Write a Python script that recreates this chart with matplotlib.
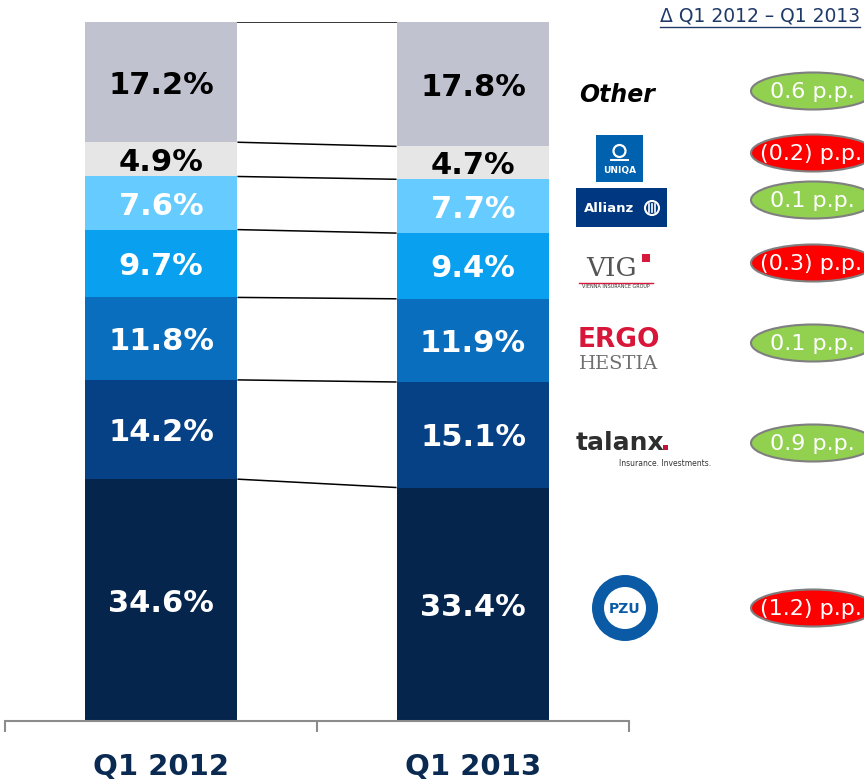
import numpy as np
import matplotlib
matplotlib.use("Agg")
import matplotlib.pyplot as plt
from matplotlib.patches import Ellipse, Rectangle, Circle

# data (bottom -> top)
periods = ["Q1 2012", "Q1 2013"]
companies = ["PZU", "talanx", "ERGO Hestia", "VIG", "Allianz", "UNIQA", "Other"]
share_2012 = [34.6, 14.2, 11.8, 9.7, 7.6, 4.9, 17.2]
share_2013 = [33.4, 15.1, 11.9, 9.4, 7.7, 4.7, 17.8]

colors = ["#06254D", "#064085", "#0A6EBE", "#0AA0F0", "#66CCFF", "#E6E6E6", "#C0C2D0"]
label_colors = ["white"] * 5 + ["black", "black"]
navy = "#0A2A52"

W, H = 864, 781
fig = plt.figure(figsize=(W / 100, H / 100), dpi=100)

# main bar axes: x from 5px to 629px, y from 60px to 759px (bottom-up)
ax = fig.add_axes([5 / W, 60 / H, 624 / W, 699 / H])
data = np.array([share_2012, share_2013])
x = np.arange(len(periods))
bw = 0.49
bottoms = np.zeros(len(periods))
for i in range(len(companies)):
    vals = data[:, i]
    ax.bar(x, vals, bw, bottom=bottoms, color=colors[i], edgecolor="none", zorder=2)
    for j in range(len(periods)):
        ax.text(x[j], bottoms[j] + vals[j] / 2, f"{vals[j]:.1f}%", ha="center",
                va="center_baseline", fontsize=22, fontweight="bold",
                color=label_colors[i], zorder=3)
    bottoms = bottoms + vals
    # connector line between the two bars
    ax.plot([x[0] + bw / 2, x[1] - bw / 2], [bottoms[0], bottoms[1]],
            color="black", lw=1.1, zorder=3, solid_capstyle="butt")

ax.set_xlim(-0.5, 1.5)
ax.set_ylim(0, 100)
for s in ["top", "left", "right"]:
    ax.spines[s].set_visible(False)
ax.spines["bottom"].set_color("#8C8C8C")
ax.spines["bottom"].set_linewidth(1.5)
ax.set_yticks([])
ax.set_xticks(x)
ax.set_xticklabels(periods, fontsize=21, fontweight="bold", color=navy)
ax.tick_params(axis="x", which="major", length=0, pad=23)
ax.set_xticks([-0.5, 0.5, 1.5], minor=True)
ax.tick_params(axis="x", which="minor", length=8, width=1.5, color="#8C8C8C", direction="out")

# overlay in pixel coordinates for legend logos and delta ovals
ov = fig.add_axes([0, 0, 1, 1], zorder=5)
ov.set_xlim(0, W)
ov.set_ylim(H, 0)
ov.axis("off")

# header
hdr = ov.text(860, 16, "Δ Q1 2012 – Q1 2013", ha="right", va="center",
              fontsize=13.5, color="#1F3A68")
fig.canvas.draw()
bb = hdr.get_window_extent().transformed(ov.transData.inverted())
ov.plot([bb.x0, bb.x1], [max(bb.y0, bb.y1) + 1, max(bb.y0, bb.y1) + 1], color="#1F3A68", lw=1)

# delta ovals, computed from the data
oval_y = [608, 443, 343, 263, 200, 153, 91]
for i in range(len(companies)):
    d = round(share_2013[i] - share_2012[i], 1)
    fc = "#92D050" if d >= 0 else "#FF0000"
    ov.add_patch(Ellipse((813, oval_y[i]), 124, 37, facecolor=fc, edgecolor="#7F7F7F", lw=1.5))
    txt = f"{d:.1f} p.p." if d >= 0 else f"({abs(d):.1f}) p.p."
    ov.text(770 if d >= 0 else 760, oval_y[i] + 1, txt, ha="left", va="center",
            fontsize=16, color="white")

# logos (approximations)
ov.text(617, 95, "Other", ha="center", va="center", fontsize=17, fontweight="bold",
        style="italic", color="black")

ov.add_patch(Rectangle((596, 135), 47, 47, facecolor="#0062AE", edgecolor="none"))
ov.add_patch(Circle((619.5, 151), 6, facecolor="none", edgecolor="white", lw=1.6))
ov.plot([611, 628], [160, 160], color="white", lw=1.4)
ov.text(619.5, 171, "UNIQA", ha="center", va="center", fontsize=6.5, fontweight="bold", color="white")

ov.add_patch(Rectangle((576, 188), 91, 39, facecolor="#003781", edgecolor="none"))
ov.text(609, 208, "Allianz", ha="center", va="center", fontsize=9.5, fontweight="bold", color="white")
ov.add_patch(Circle((652, 208), 7, facecolor="none", edgecolor="white", lw=1.5))
for dx in (-3, 0, 3):
    ov.plot([652 + dx, 652 + dx], [204, 212], color="white", lw=1.2)

ov.text(612, 268, "VIG", ha="center", va="center", fontsize=19, family="DejaVu Serif", color="#555555")
ov.add_patch(Rectangle((642, 254), 8, 8, facecolor="#D7193C", edgecolor="none"))
ov.plot([579, 653], [283, 283], color="#D7193C", lw=1)
ov.text(616, 287, "VIENNA INSURANCE GROUP", ha="center", va="center", fontsize=3.5, color="#333333")

ov.text(619, 340, "ERGO", ha="center", va="center", fontsize=19, fontweight="bold", color="#D8163A")
ov.text(619, 364, "HESTIA", ha="center", va="center", fontsize=14, family="DejaVu Serif", color="#707070")

ov.text(576, 443, "talanx", ha="left", va="center", fontsize=18, fontweight="bold", color="#2E2E2E")
ov.add_patch(Rectangle((663, 445), 5, 5, facecolor="#C0143C", edgecolor="none"))
ov.text(665, 464, "Insurance. Investments.", ha="center", va="center", fontsize=5.5, color="#333333")

ov.add_patch(Circle((625, 608), 33, facecolor="#0B5AA6", edgecolor="none"))
ov.add_patch(Circle((625, 608), 21, facecolor="white", edgecolor="none"))
ov.text(625, 609, "PZU", ha="center", va="center", fontsize=10, fontweight="bold", color="#0B5AA6")

fig.savefig("out.png", dpi=100)
